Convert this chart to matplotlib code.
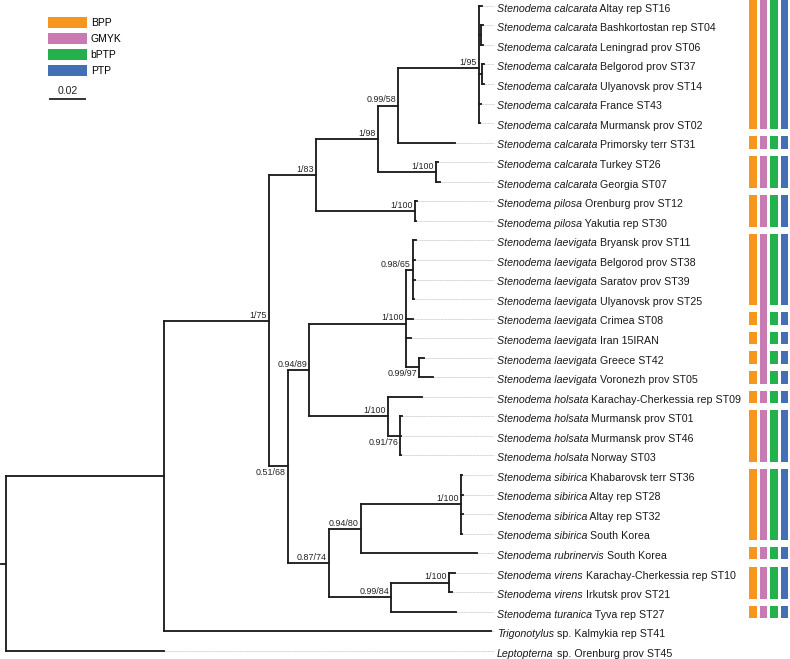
import matplotlib
matplotlib.use('Agg')
import matplotlib.pyplot as plt
from matplotlib.collections import LineCollection
from matplotlib.patches import Patch

plt.rcParams['font.family'] = ['Liberation Sans', 'DejaVu Sans']

# taxa, top to bottom (row index = tip name in the tree string)
species = (['Stenodema calcarata'] * 10 + ['Stenodema pilosa'] * 2 +
           ['Stenodema laevigata'] * 8 + ['Stenodema holsata'] * 4 +
           ['Stenodema sibirica'] * 4 + ['Stenodema rubrinervis'] +
           ['Stenodema virens'] * 2 + ['Stenodema turanica', 'Trigonotylus', 'Leptopterna'])
localities = ['Altay rep ST16', 'Bashkortostan rep ST04', 'Leningrad prov ST06',
              'Belgorod prov ST37', 'Ulyanovsk prov ST14', 'France ST43',
              'Murmansk prov ST02', 'Primorsky terr ST31', 'Turkey ST26', 'Georgia ST07',
              'Orenburg prov ST12', 'Yakutia rep ST30',
              'Bryansk prov ST11', 'Belgorod prov ST38', 'Saratov prov ST39',
              'Ulyanovsk prov ST25', 'Crimea ST08', 'Iran 15IRAN', 'Greece ST42',
              'Voronezh prov ST05',
              'Karachay-Cherkessia rep ST09', 'Murmansk prov ST01', 'Murmansk prov ST46',
              'Norway ST03',
              'Khabarovsk terr ST36', 'Altay rep ST28', 'Altay rep ST32', 'South Korea',
              'South Korea', 'Karachay-Cherkessia rep ST10', 'Irkutsk prov ST21',
              'Tyva rep ST27', 'sp. Kalmykia rep ST41', 'sp. Orenburg prov ST45']

# tree with branch lengths and posterior/bootstrap support
tree = ("(((((((0:0.0017,(1:0.0011,2:0.0009):0.0011,(3:0.0009,4:0.0009):0.0017,5:0.0011,6:0.0006)1/95:0.0463,"
        "7:0.0326)0.99/58:0.0114,(8:0.0011,9:0.0023)1/100:0.0331)1/98:0.0354,(10:0.0009,11:0.0006)1/100:0.0566)1/83:0.0269,"
        "((((12:0.0014,13:0.0011,14:0.0011,15:0.0003)0.98/65:0.0040,16:0.0040,17:0.0026,(18:0.0029,19:0.0080)0.99/97:0.0074)1/100:0.0554,"
        "(20:0.0194,(21:0.0011,22:0.0003,23:0.0006)0.91/76:0.0069)1/100:0.0451)0.94/89:0.0120,"
        "(((24:0.0006,25:0.0011,26:0.0011,27:0.0003)1/100:0.0571,28:0.0663)0.94/80:0.0183,"
        "((29:0.0034,30:0.0017)1/100:0.0331,31:0.0371)0.99/84:0.0354)0.87/74:0.0234)0.51/68:0.0109)1/75:0.0600,"
        "32:0.1869):0.0903,33:0.0903):0.0029;")
below = ['0.51/68', '0.99/97', '0.91/76']

# species delimitation: number of consecutive rows in each putative species
methods = ['BPP', 'GMYK', 'bPTP', 'PTP']
bpp = [7, 1, 2, 2, 4, 1, 1, 1, 1, 1, 3, 4, 1, 2, 1]
gmyk = [7, 1, 2, 2, 8, 1, 3, 4, 1, 2, 1]
bptp = [7, 1, 2, 2, 4, 1, 1, 1, 1, 1, 3, 4, 1, 2, 1]
ptp = [7, 1, 2, 2, 4, 1, 1, 1, 1, 1, 3, 4, 1, 2, 1]
colors = ['#F7961E', '#C97AB3', '#24B04C', '#426FB6']


def parse(s, i=0):
    node = {'children': [], 'name': '', 'bl': 0.0}
    if s[i] == '(':
        i += 1
        while True:
            child, i = parse(s, i)
            node['children'].append(child)
            if s[i] == ',':
                i += 1
            else:
                i += 1
                break
    j = i
    while s[i] not in ':,);':
        i += 1
    node['name'] = s[j:i]
    if s[i] == ':':
        j = i + 1
        i = j
        while s[i] not in ',);':
            i += 1
        node['bl'] = float(s[j:i])
    return node, i


def layout(node, x0):
    node['x'] = x0 + node['bl']
    if node['children']:
        for c in node['children']:
            layout(c, node['x'])
        node['y'] = sum(c['y'] for c in node['children']) / len(node['children'])
    else:
        node['y'] = int(node['name'])


root, _ = parse(tree)
layout(root, 0.0)

segs, guides, nodes, tips = [], [], [], []
segs.append([(0.0, root['y']), (root['x'], root['y'])])
stack = [root]
while stack:
    n = stack.pop()
    if n['children']:
        ys = [c['y'] for c in n['children']]
        segs.append([(n['x'], min(ys)), (n['x'], max(ys))])
        for c in n['children']:
            segs.append([(n['x'], c['y']), (c['x'], c['y'])])
            stack.append(c)
        if n['name']:
            nodes.append(n)
    else:
        tips.append(n)

fig = plt.figure(figsize=(7.9, 6.59), dpi=100)
ax = fig.add_axes([0, 0, 1, 1])
x_left = -0.0006
ax.set_xlim(x_left, x_left + 790 / 1750)
ax.set_ylim(33.41, -0.297)
ax.axis('off')

label_x = x_left + 497 / 1750
guide_x = x_left + 494 / 1750
for t in tips:
    guides.append([(t['x'], t['y']), (guide_x, t['y'])])
ax.add_collection(LineCollection(guides, colors='#dadada', linewidths=0.7, linestyles=(0, (3, 0.5))))
ax.add_collection(LineCollection(segs, colors='#1e1e1e', linewidths=1.35, capstyle='projecting'))

for t in tips:
    i = int(t['name'])
    t1 = ax.annotate(species[i], (label_x, i), xytext=(0, -1.3), textcoords='offset points',
                     style='italic', fontsize=7.65, va='center_baseline', ha='left', color='#1a1a1a')
    ax.annotate(' ' + localities[i], xy=(1, 0), xycoords=t1, va='bottom', ha='left',
                fontsize=7.65, color='#1a1a1a')

for n in nodes:
    if n['name'] in below:
        ax.annotate(n['name'], (n['x'], n['y']), xytext=(-1.6, -1.2), textcoords='offset points',
                    ha='right', va='top', fontsize=6.4, color='#222222')
    else:
        ax.annotate(n['name'], (n['x'], n['y']), xytext=(-1.6, 0.8), textcoords='offset points',
                    ha='right', va='bottom', fontsize=6.4, color='#222222')

# delimitation bars
bx = fig.add_axes([747.5 / 790, 0, 42.4 / 790, 1])
bx.set_xlim(-0.5, 3.5)
bx.set_ylim(33.41, -0.297)
bx.axis('off')
gap = 0.36
for j, g in enumerate([bpp, gmyk, bptp, ptp]):
    start = 0
    for n in g:
        bx.bar(j, n - gap, bottom=start - 0.5 + gap / 2, width=0.72, color=colors[j])
        start += n

# legend and scale bar
handles = [Patch(facecolor=c, edgecolor='none') for c in colors]
ax.legend(handles, methods, loc='upper left', bbox_to_anchor=(48 / 790, 1 - 17 / 659),
          bbox_transform=fig.transFigure, frameon=False, fontsize=7.5, handlelength=3.7,
          handleheight=1.3, handletextpad=0.4, labelspacing=0.45, borderpad=0, borderaxespad=0)
sb_x = x_left + 50 / 1750
sb_y = 4.78
ax.plot([sb_x, sb_x + 0.02], [sb_y, sb_y], color='#333333', lw=1.4)
ax.text(sb_x + 0.01, sb_y - 0.15, '0.02', ha='center', va='bottom', fontsize=7.6, color='#222222')

fig.savefig('out.png', dpi=100)
